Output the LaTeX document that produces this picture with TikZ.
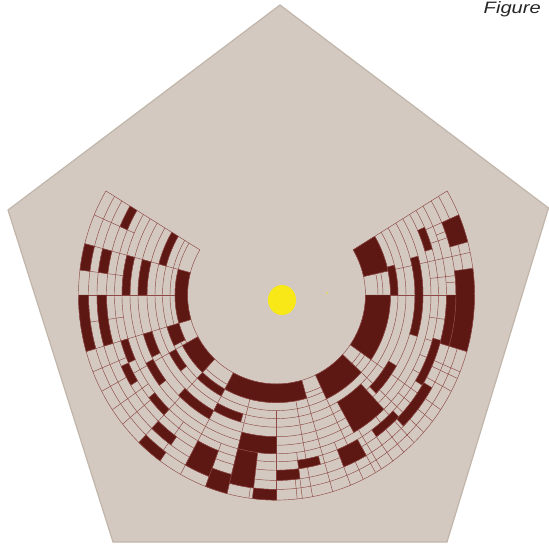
\documentclass[tikz,border=0pt]{standalone}
\usepackage{fontspec}
\setmainfont{Liberation Sans}
\definecolor{bgpent}{HTML}{D3C9C0}
\definecolor{pentedge}{HTML}{C2B6AB}
\definecolor{darkcell}{HTML}{5E1814}
\definecolor{gridline}{HTML}{8E4A46}
\definecolor{sun}{HTML}{F8E818}
\tikzset{
  gridarc/.style={draw=gridline,line width=0.45pt},
  darkfill/.style={fill=darkcell,draw=gridline,line width=0.45pt},
}
\def\ringlist{89,101.5,106.5,114,121.5,129.5,138.5,146.5,154.5,162,170,179.5,188,198}
\def\ringarr{{89,101.5,106.5,114,121.5,129.5,138.5,146.5,154.5,162,170,179.5,188,198}}
% sector between angles #1,#2 and radii #3,#4 with style #5
\newcommand\cellx[5]{%
  \pgfmathsetmacro\ryA{1.065*#3-5.8}\pgfmathsetmacro\ryB{1.065*#4-5.8}%
  \cellxx{#1}{#2}{#3}{#4}{\ryA}{\ryB}{#5}}
\newcommand\cellxx[7]{%
  \path[#7] (#1:#3 and #5) -- (#1:#4 and #6)
    arc[start angle=#1,end angle=#2,x radius=#4,y radius=#6]
    -- (#2:#3 and #5)
    arc[start angle=#2,end angle=#1,x radius=#3,y radius=#5] -- cycle;}
\newcommand\dcell[4]{%
  \pgfmathsetmacro\ri{\ringarr[#3]}\pgfmathsetmacro\rj{\ringarr[#4]}%
  \cellx{#1}{#2}{\ri}{\rj}{darkfill}}
\newcommand\rline[3]{%
  \pgfmathsetmacro\ri{\ringarr[#2]}\pgfmathsetmacro\rj{\ringarr[#3]}%
  \pgfmathsetmacro\ryA{1.065*\ri-5.8}\pgfmathsetmacro\ryB{1.065*\rj-5.8}%
  \radseg{#1}{\ri}{\rj}{\ryA}{\ryB}}
\newcommand\radseg[5]{\draw[gridarc] (#1:#2 and #4) -- (#1:#3 and #5);}
\newcommand\ringarc[1]{%
  \pgfmathsetmacro\ryA{1.065*#1-5.8}%
  \ringarcx{#1}{\ryA}}
\newcommand\ringarcx[2]{\draw[gridarc] (149.5:#1 and #2) arc[start angle=149.5,end angle=390.5,x radius=#1,y radius=#2];}
\begin{document}
\begin{tikzpicture}[x=1pt,y=1pt]
\useasboundingbox (0,0) rectangle (549,-546);
\fill[white] (0,0) rectangle (549,-546);
\filldraw[fill=bgpent,draw=pentedge,line width=1.2pt]
  (280,-5) -- (548.5,-208) -- (447,-542) -- (113,-542) -- (8,-210) -- cycle;
\node[anchor=base west,inner sep=0pt,font=\fontsize{16.5}{16.5}\selectfont\itshape,text=black!85,xscale=1.22]
  (fig) at (483.5,-13.5) {Figure};
\fill[sun] (282,-300) ellipse [x radius=14,y radius=15];
\fill[sun!60!bgpent] (327,-293) circle (1.2);
\begin{scope}[shift={(276.5,-295)}]
  \foreach \rv in \ringlist {\ringarc{\rv}}
  % radial lines through all rings
  \foreach \a in {149.5,165.5,196,208,226,241,286.5,296,318,326,360,372,390.5}{\rline{\a}{0}{13}}
  \rline{180}{1}{13}
  % radial lines of the outer rings
  \foreach \a in {157,173,188,202,214,219,233,249,277.5,292,302,310,314,322,332,338,344,352,366,378,383}{\rline{\a}{8}{13}}
  \foreach \a in {255.5,280.5}{\rline{\a}{2}{13}}
  \rline{270}{3}{13}
  \foreach \a in {262,276,300,306,336,348,356,364,380}{\rline{\a}{10}{13}}
  % dark cells
  \dcell{149.5}{157}{9}{10}
  \dcell{149.5}{165.5}{3}{4}
  \dcell{165.5}{173}{12}{13}
  \dcell{165.5}{173}{10}{11}
  \dcell{165.5}{180}{7}{8}
  \dcell{165.5}{180}{5}{6}
  \dcell{165.5}{196}{0}{1}
  \dcell{180}{196}{12}{13}
  \dcell{180}{196}{10}{11}
  \dcell{196}{204}{8}{9}
  \dcell{204}{211}{9}{10}
  \dcell{196}{206}{5}{6}
  \dcell{196}{206}{1}{3}
  \dcell{208}{226}{0}{2}
  \dcell{226}{241}{2}{3}
  \dcell{241}{286.5}{0}{2}
  \dcell{207}{217}{6}{7}
  \dcell{208}{218}{3}{4}
  \dcell{225}{241}{5}{6}
  \dcell{241}{254}{4}{5}
  \dcell{218}{226}{8}{9}
  \dcell{226}{234}{10}{11}
  \dcell{226}{234}{12}{13}
  \dcell{241}{249}{9}{12}
  \dcell{249}{255.5}{11}{13}
  \dcell{255.5}{270}{6}{8}
  \dcell{255.5}{263}{8}{12}
  \dcell{263}{270}{12}{13}
  \dcell{270}{277.5}{10}{11}
  \dcell{277.5}{285}{9}{10}
  \dcell{292}{300}{9}{11}
  \dcell{296}{318}{0}{3}
  \dcell{300}{314}{4}{8}
  \dcell{326}{360}{0}{3}
  \dcell{372}{390.5}{0}{3}
  \dcell{360}{374}{3}{4}
  \dcell{344}{375}{6}{7}
  \dcell{344}{360}{10}{11}
  \dcell{344}{367.5}{11}{13}
  \dcell{375}{383}{11}{13}
  \dcell{376}{384}{8}{9}
  \dcell{329}{345}{9}{10}
  \dcell{315}{330}{10}{11}
  \dcell{306}{316}{9}{10}
  \dcell{316}{330}{5}{6}
\end{scope}
\end{tikzpicture}
\end{document}
